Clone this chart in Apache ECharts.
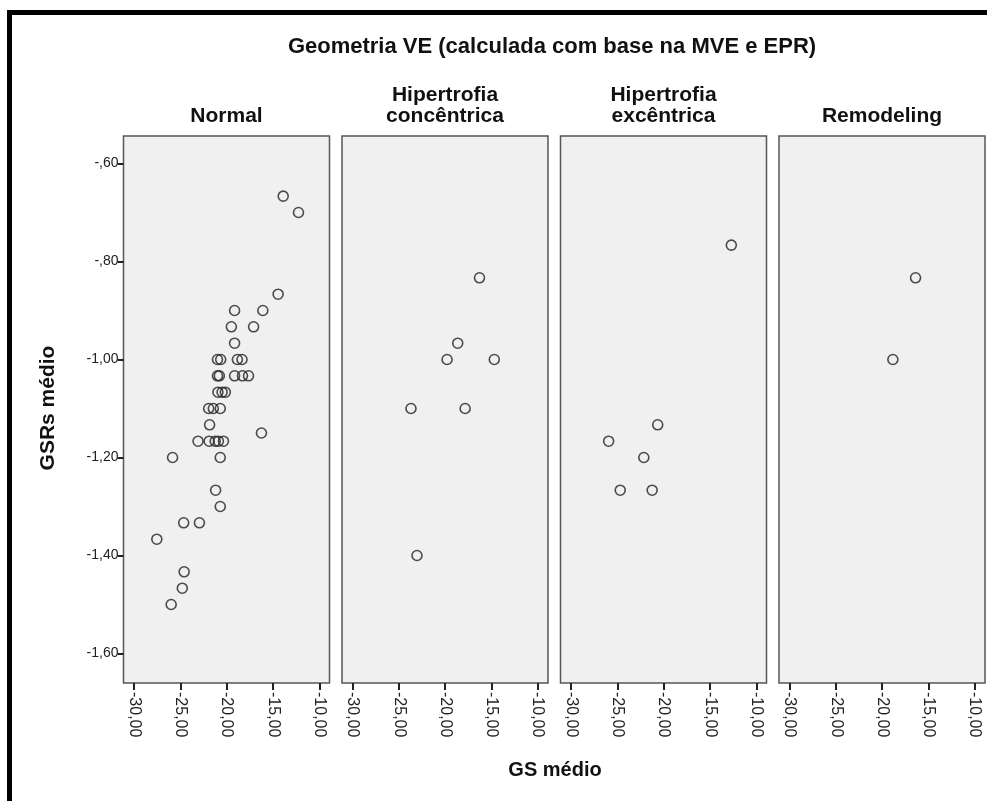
<!DOCTYPE html>
<html>
<head>
<meta charset="utf-8">
<script src="https://cdn.jsdelivr.net/npm/echarts@6/dist/echarts.min.js"></script>
<style>
html,body{margin:0;padding:0;background:#fff;}
#chart{width:987px;height:801px;}
</style>
</head>
<body>
<div id="chart"></div>
<script>
// ---- Data ----
const mainTitle = 'Geometria VE (calculada com base na MVE e EPR)';
const panelNames = ['Normal', 'Hipertrofia\nconcêntrica', 'Hipertrofia\nexcêntrica', 'Remodeling'];
const xAxisTitle = 'GS médio';
const yAxisTitle = 'GSRs médio';
const xTicks = [-30, -25, -20, -15, -10];
const yTicks = [-1.6, -1.4, -1.2, -1.0, -0.8, -0.6];

const normalGS = [-13.9, -12.25, -14.45, -19.15, -16.1, -19.5, -17.1, -19.15,
  -21.0, -20.65, -18.85, -18.35, -21.0, -20.8, -19.15, -18.3, -17.65,
  -20.95, -20.5, -20.15, -21.95, -21.45, -20.7, -21.85, -16.25,
  -23.1, -21.9, -21.25, -20.9, -20.35, -25.85, -20.7, -21.2, -20.7,
  -24.65, -22.95, -27.55, -24.6, -24.8, -26.0];
const normalGSR = [-0.6667, -0.7, -0.8667, -0.9, -0.9, -0.9333, -0.9333, -0.9667,
  -1.0, -1.0, -1.0, -1.0, -1.0333, -1.0333, -1.0333, -1.0333, -1.0333,
  -1.0667, -1.0667, -1.0667, -1.1, -1.1, -1.1, -1.1333, -1.15,
  -1.1667, -1.1667, -1.1667, -1.1667, -1.1667, -1.2, -1.2, -1.2667, -1.3,
  -1.3333, -1.3333, -1.3667, -1.4333, -1.4667, -1.5];

const concGS = [-16.3, -18.65, -19.8, -14.7, -23.7, -17.85, -23.05];
const concGSR = [-0.8333, -0.9667, -1.0, -1.0, -1.1, -1.1, -1.4];

const excGS = [-12.7, -20.65, -25.95, -22.15, -24.7, -21.25];
const excGSR = [-0.7667, -1.1333, -1.1667, -1.2, -1.2667, -1.2667];

const remGS = [-16.4, -18.85];
const remGSR = [-0.8333, -1.0];

// ---- Build ----
const groupsGS = [normalGS, concGS, excGS, remGS];
const groupsGSR = [normalGSR, concGSR, excGSR, remGSR];

const panelLeft = [123.5, 342, 560.5, 779];
const panelW = 206;
const panelTop = 136;
const panelH = 547;

const fmtX = v => {
  const s = Math.abs(v).toFixed(2).replace('.', ',');
  return (v < 0 ? '-' : '') + s;
};
const fmtY = v => {
  let s = Math.abs(v).toFixed(2).replace('.', ',');
  if (s.startsWith('0')) s = s.slice(1);
  return (v < 0 ? '-' : '') + s;
};

const FONT = '"Liberation Sans", Arial, sans-serif';

const grids = [], xAxes = [], yAxes = [], series = [];
for (let i = 0; i < 4; i++) {
  grids.push({
    left: panelLeft[i], top: panelTop, width: panelW, height: panelH,
    show: true, backgroundColor: '#f0f0f0', borderColor: '#555', borderWidth: 1.5,
    containLabel: false
  });
  xAxes.push({
    type: 'value', gridIndex: i, min: -31.15, max: -8.9,
    splitLine: { show: false },
    axisLine: { show: false },
    axisTick: { show: true, inside: false, length: 7, customValues: xTicks,
      lineStyle: { color: '#222', width: 2 } },
    axisLabel: { show: true, customValues: xTicks, rotate: -90, formatter: fmtX,
      color: '#222', fontSize: 16, fontFamily: FONT, margin: 9 }
  });
  yAxes.push({
    type: 'value', gridIndex: i, min: -1.6602, max: -0.5439,
    splitLine: { show: false },
    axisLine: { show: false },
    axisTick: { show: i === 0, inside: false, length: 6, customValues: yTicks,
      lineStyle: { color: '#222', width: 2 } },
    axisLabel: { show: i === 0, customValues: yTicks, formatter: fmtY,
      color: '#222', fontSize: 14, fontFamily: FONT, margin: 5 }
  });
  const pts = groupsGS[i].map((x, k) => [x, groupsGSR[i][k]]);
  series.push({
    type: 'scatter', xAxisIndex: i, yAxisIndex: i, data: pts,
    symbol: 'circle', symbolSize: 10,
    itemStyle: { color: 'rgba(0,0,0,0)', borderColor: '#222', borderWidth: 1.6 },
    silent: true, animation: false
  });
}

const graphics = [
  { type: 'rect', shape: { x: 9.5, y: 12.5, width: 1000, height: 820 },
    style: { fill: 'none', stroke: '#000', lineWidth: 5 }, silent: true },
  { type: 'text', x: 552, y: 47, style: { text: mainTitle,
    font: 'bold 22px ' + FONT, fill: '#111', align: 'center', verticalAlign: 'middle' } },
  { type: 'text', x: 555, y: 770, style: { text: xAxisTitle,
    font: 'bold 20px ' + FONT, fill: '#111', align: 'center', verticalAlign: 'middle' } },
  { type: 'text', x: 48, y: 408, rotation: Math.PI / 2, style: { text: yAxisTitle,
    font: 'bold 21px ' + FONT, fill: '#111', align: 'center', verticalAlign: 'middle' } }
];
for (let i = 0; i < 4; i++) {
  graphics.push({ type: 'text', x: panelLeft[i] + panelW / 2, y: 127,
    style: { text: panelNames[i], font: 'bold 21px ' + FONT, fill: '#111',
      align: 'center', verticalAlign: 'bottom', lineHeight: 21 } });
}

const chart = echarts.init(document.getElementById('chart'), null, { renderer: 'canvas' });
chart.setOption({
  animation: false,
  backgroundColor: '#fff',
  grid: grids, xAxis: xAxes, yAxis: yAxes, series: series,
  graphic: graphics
});
</script>
</body>
</html>
